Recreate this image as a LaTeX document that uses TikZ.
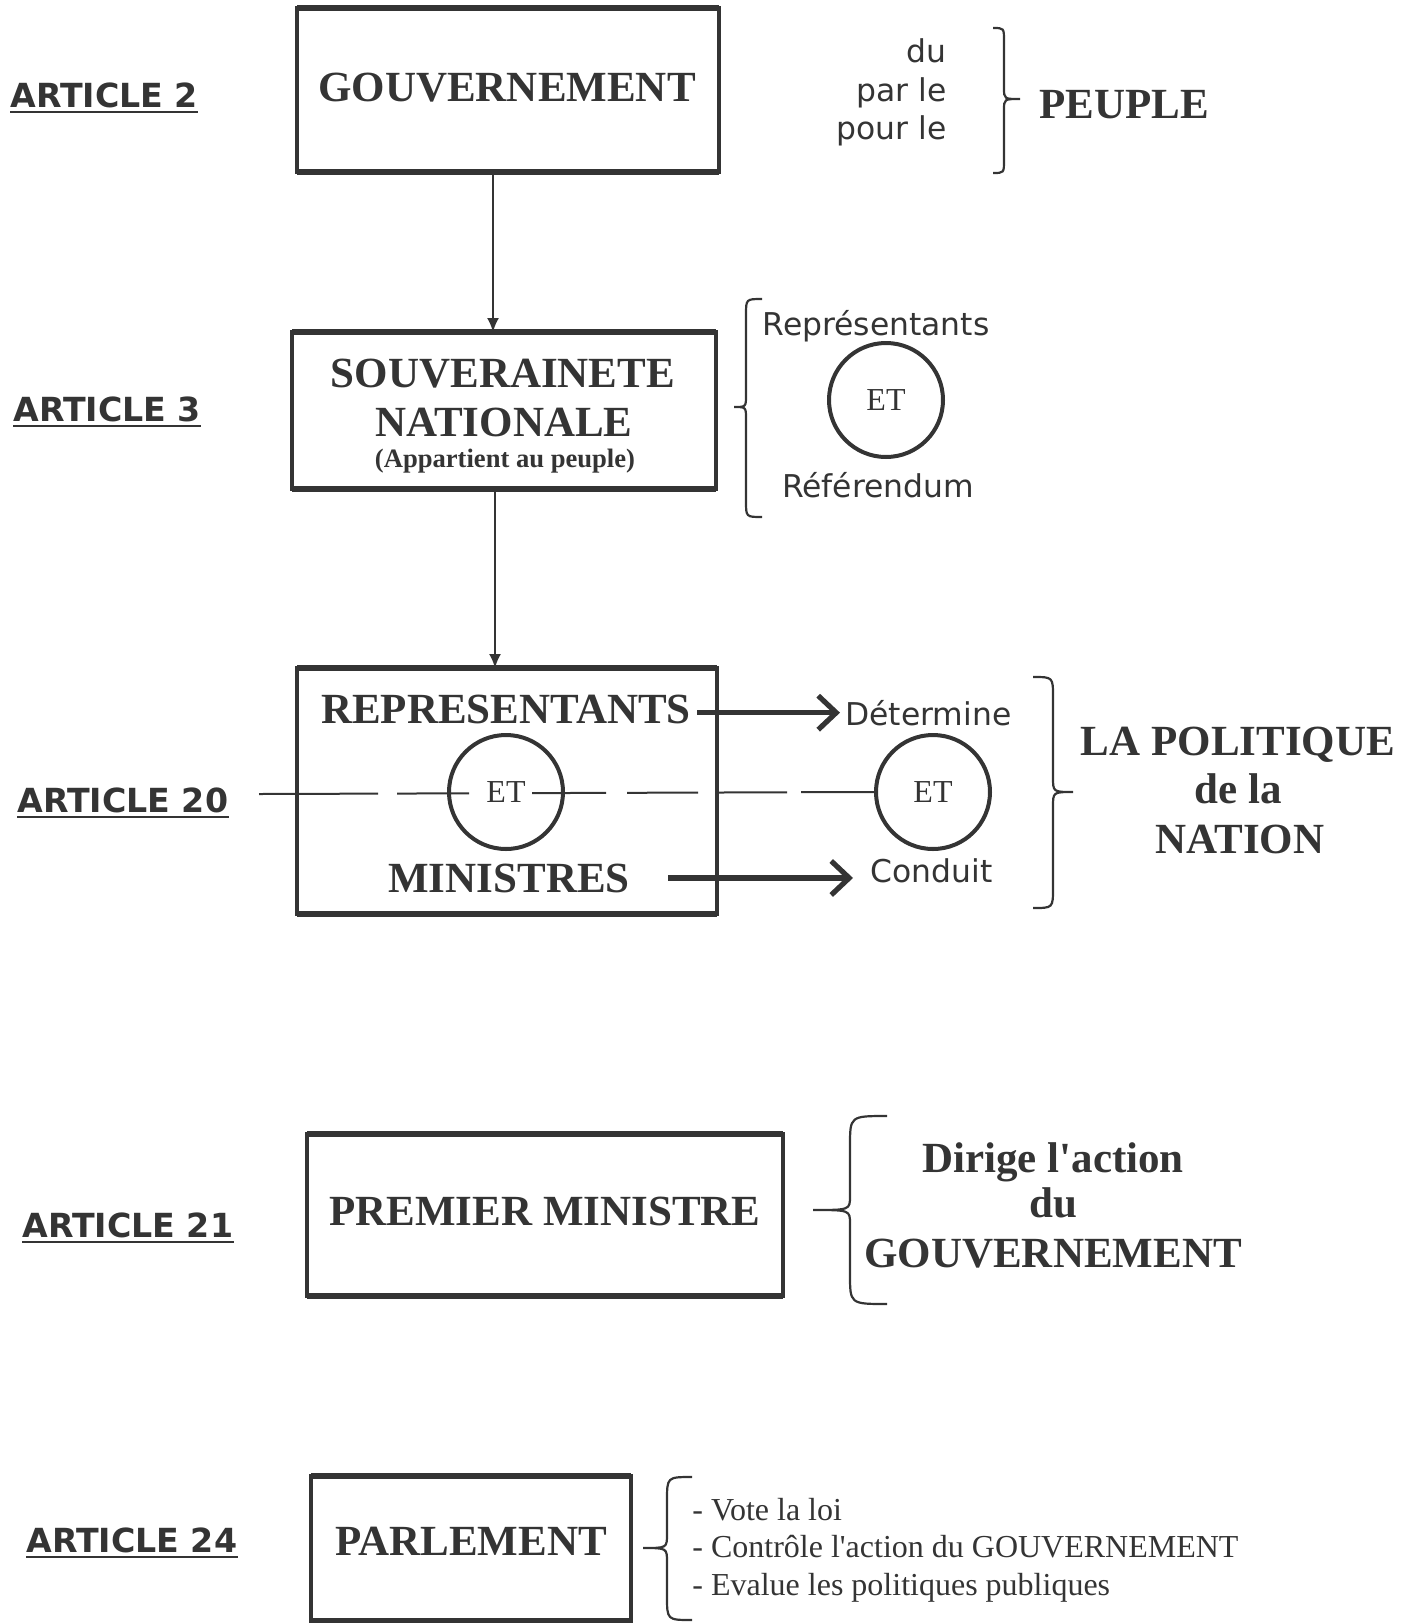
\documentclass[tikz,border=0pt]{standalone}
\usepackage{fontspec}
\setmainfont{Liberation Serif}
\newfontfamily\vsans{DejaVu Sans}
\usetikzlibrary{arrows.meta}
\definecolor{ink}{HTML}{343434}
% #1 end x, #2 body x, #3 tip x, #4 top y, #5 tip y, #6 bottom y, #7 end radius, #8 tip radius
\newcommand\mybrace[8]{\draw[brc] (#1,#4) .. controls (#2,#4) .. (#2,#4+#7) -- (#2,#5-#8) .. controls (#2,#5) .. (#3,#5) .. controls (#2,#5) .. (#2,#5+#8) -- (#2,#6-#7) .. controls (#2,#6) .. (#1,#6);}
\begin{document}
\begin{tikzpicture}[x=0.5pt,y=-0.5pt,
  hedge/.style={draw=ink, line width=2.8pt},
  box/.style={rectangle, draw=ink, line width=1.9pt, inner sep=0pt, outer sep=0pt,
    append after command={(\tikzlastnode.north west) edge[hedge] (\tikzlastnode.north east)
                          (\tikzlastnode.south west) edge[hedge] (\tikzlastnode.south east)}},
  big/.style={font=\bfseries\fontsize{21.5}{24}\selectfont, text=ink, inner sep=0pt},
  vs/.style={font=\vsans\fontsize{15.7}{19}\selectfont, text=ink, inner sep=0pt},
  art/.style={font=\vsans\bfseries\fontsize{16.6}{19}\selectfont, text=ink, inner sep=0pt},
  uline/.style={draw=ink, line width=1.4pt},
  etc/.style={circle, draw=ink, line width=2pt, minimum size=57pt, inner sep=0pt,
    font=\fontsize{16}{19}\selectfont, text=ink},
  small/.style={font=\bfseries\fontsize{13.3}{16}\selectfont, text=ink, inner sep=0pt},
  lst/.style={font=\fontsize{16}{19}\selectfont, text=ink, inner sep=0pt},
  conn/.style={draw=ink, line width=1pt, -{Latex[length=7pt,width=6pt]}},
  bigarr/.style={draw=ink, line width=2.6pt, -{Straight Barb[length=9pt,width=17pt]}},
  dashl/.style={draw=ink, line width=1pt, dash pattern=on 59.5pt off 9.5pt on 36pt off 31.5pt on 37pt off 10.5pt on 35.5pt off 9.5pt on 35pt off 7pt on 40pt off 20pt},
  brc/.style={draw=ink, line width=1.1pt}
]
\useasboundingbox (0,0) rectangle (1410,1623);

% ---- ARTICLE labels
\foreach \n/\x/\y/\t in {a2/10/107/ARTICLE 2, a3/13/421/ARTICLE 3, a20/17/812/ARTICLE 20, a21/22/1237/ARTICLE 21, a24/26/1552/ARTICLE 24}{
  \node[art, anchor=base west] (\n) at (\x,\y) {\t};
  \draw[uline] ([yshift=-2.5pt]\n.base west) -- ([yshift=-2.5pt]\n.base east);
}

% ---- boxes
\node[box, minimum width=211pt, minimum height=82pt] (g) at (508,90) {};
\node[box, minimum width=212pt, minimum height=78.5pt] (s) at (504,410.5) {};
\node[box, minimum width=210pt, minimum height=123pt] (r) at (507,791) {};
\node[box, minimum width=238pt, minimum height=81pt] (pm) at (545,1215) {};
\node[box, minimum width=160pt, minimum height=72.5pt] (pa) at (471,1548.5) {};

% ---- Article 2
\node[big, anchor=base] (gt) at (507,101) {GOUVERNEMENT};
\node[vs, anchor=base east] (du) at (947,62) {du};
\node[vs, anchor=base east] (parle) at (947,101) {par le};
\node[vs, anchor=base east] (pourle) at (947,139) {pour le};
\mybrace{993}{1004}{1020}{28}{99}{173}{13}{11}
\node[big, anchor=base] (peuple) at (1124,118) {PEUPLE};

% ---- Article 3
\node[big, anchor=base] (sv) at (503,387) {SOUVERAINETE};
\node[big, anchor=base] (nat) at (504,436) {NATIONALE};
\node[small, anchor=base] (app) at (505,467) {(Appartient au peuple)};
\mybrace{762}{746}{734}{299}{407}{517}{16}{12}
\node[vs, anchor=base] (rep3) at (876,335) {Représentants};
\node[etc] (et3) at (886,400) {ET};
\node[vs, anchor=base] (ref) at (878,497) {Référendum};

% ---- Article 20
\coordinate (dl) at (259,794);
\node[etc] (etL) at (506,792) {ET};
\node[etc] (etR) at (933,792) {ET};
\draw[dashl] (dl) -- (etR.west);
\node[big, anchor=base] (rep) at (506,723) {REPRESENTANTS};
\node[big, anchor=base] (min) at (509,892) {MINISTRES};
\node[vs, anchor=base west] (det) at (845,725) {Détermine};
\node[vs, anchor=base west] (con) at (870,882) {Conduit};
\draw[bigarr, shorten <=3pt, shorten >=2.5pt] (rep.east |- det.west) -- (det.west);
\draw[bigarr, shorten <=19pt, shorten >=8.5pt] (min.east) -- (min.east -| con.west);
\mybrace{1033}{1053}{1073}{677}{792}{908}{20}{15}
\node[big, anchor=base] (lapol) at (1238,755) {LA POLITIQUE};
\node[big, anchor=base] (dela) at (1238,803) {de la};
\node[big, anchor=base] (nation) at (1240,853) {NATION};

% ---- connectors
\coordinate (c1) at (493,0);
\coordinate (c2) at (495,0);
\draw[conn] (g.south -| c1) -- (s.north -| c1);
\draw[conn] (s.south -| c2) -- (r.north -| c2);

% ---- Article 21
\node[big, anchor=base] (pmt) at (545,1225) {PREMIER MINISTRE};
\mybrace{887}{850}{813}{1116}{1210}{1304}{30}{14}
\node[big, anchor=base] (dir) at (1053,1172) {Dirige l\textquotesingle action};
\node[big, anchor=base] (du2) at (1053,1217) {du};
\node[big, anchor=base] (gouv2) at (1053,1267) {GOUVERNEMENT};

% ---- Article 24
\node[big, anchor=base] (pat) at (471,1555) {PARLEMENT};
\mybrace{692}{667}{643}{1477}{1548}{1620}{24}{14}
\node[lst, anchor=base west] (l1) at (692,1520) {- Vote la loi};
\node[lst, anchor=base west] (l2) at (692,1557) {- Contrôle l\textquotesingle action du GOUVERNEMENT};
\node[lst, anchor=base west] (l3) at (692,1595) {- Evalue les politiques publiques};
\end{tikzpicture}
\end{document}
